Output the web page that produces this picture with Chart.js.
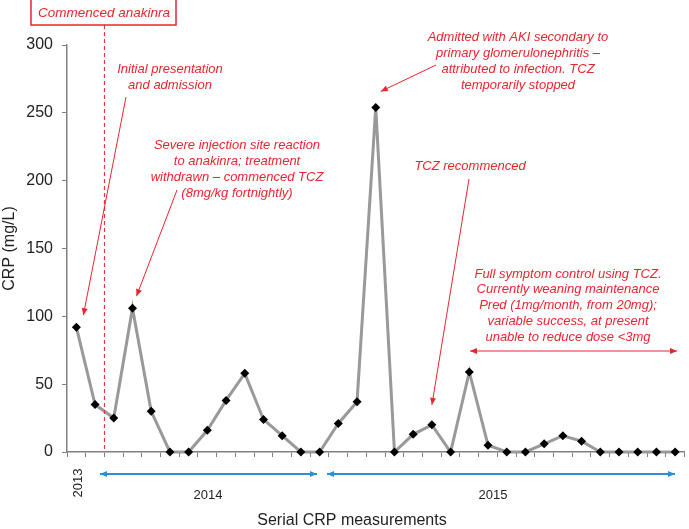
<!DOCTYPE html>
<html>
<head>
<meta charset="utf-8">
<script src="https://cdn.jsdelivr.net/npm/chart.js@4/dist/chart.umd.min.js"></script>
<style>
  html, body { margin: 0; padding: 0; background: #fff; }
  #wrap { width: 689px; height: 529px; }
</style>
</head>
<body>
<div id="wrap"><canvas id="crpChart" width="689" height="529"></canvas></div>
<script>
// serial CRP measurements (mg/L), one per visit
const measurements = ['1','2','3','4','5','6','7','8','9','10','11','12','13','14','15','16','17',
  '18','19','20','21','22','23','24','25','26','27','28','29','30','31','32','33'];
const crpValues = [92, 35, 25, 106, 30, 0, 0, 16, 38, 58, 24, 12, 0, 0, 21, 37, 254,
  0, 13, 20, 0, 59, 5, 0, 0, 6, 12, 8, 0, 0, 0, 0, 0];
const yTicks = [0, 50, 100, 150, 200, 250, 300];
const yearLabels = ['2013', '2014', '2015'];

const RED = '#e8262e';
const BLUE = '#2b8fd6';
const ITALIC = 'italic 13px "Liberation Sans", Arial, sans-serif';

function arrowHead(ctx, x1, y1, x2, y2, len, wid) {
  const a = Math.atan2(y2 - y1, x2 - x1);
  ctx.beginPath();
  ctx.moveTo(x2, y2);
  ctx.lineTo(x2 - len * Math.cos(a) + wid * Math.sin(a), y2 - len * Math.sin(a) - wid * Math.cos(a));
  ctx.lineTo(x2 - len * Math.cos(a) - wid * Math.sin(a), y2 - len * Math.sin(a) + wid * Math.cos(a));
  ctx.closePath();
  ctx.fill();
}

function arrow(ctx, x1, y1, x2, y2, color, lw, both) {
  ctx.save();
  ctx.strokeStyle = color;
  ctx.fillStyle = color;
  ctx.lineWidth = lw;
  ctx.beginPath();
  ctx.moveTo(x1, y1);
  ctx.lineTo(x2, y2);
  ctx.stroke();
  arrowHead(ctx, x1, y1, x2, y2, 7, 3);
  if (both) arrowHead(ctx, x2, y2, x1, y1, 7, 3);
  ctx.restore();
}

function lines(ctx, arr, cx, y0, step) {
  arr.forEach((t, i) => ctx.fillText(t, cx, y0 + i * step));
}

const annotations = {
  id: 'annotations',
  afterDraw(chart) {
    const ctx = chart.ctx;
    const x = chart.scales.x, y = chart.scales.y;
    const px = i => x.getPixelForValue(i);
    const py = v => y.getPixelForValue(v);

    ctx.save();
    // anakinra start: between 2nd and 3rd measurement
    const startX = (px(1) + px(2)) / 2;
    ctx.strokeStyle = RED;
    ctx.lineWidth = 1;
    ctx.setLineDash([4, 3]);
    ctx.beginPath();
    ctx.moveTo(startX, 25);
    ctx.lineTo(startX, y.bottom);
    ctx.stroke();
    ctx.setLineDash([]);

    ctx.lineWidth = 1.5;
    ctx.fillStyle = '#fff';
    ctx.fillRect(31, -1, 145, 26);
    ctx.strokeRect(31, -1, 145, 26);
    ctx.fillStyle = RED;
    ctx.font = 'italic 13.5px "Liberation Sans", Arial, sans-serif';
    ctx.textAlign = 'center';
    ctx.textBaseline = 'middle';
    ctx.fillText('Commenced anakinra', 104, 13);

    ctx.font = ITALIC;
    lines(ctx, ['Initial presentation', 'and admission'], 170, 69, 16.5);
    arrow(ctx, 126, 97, px(0) + 7, py(crpValues[0]) - 12, RED, 1);

    lines(ctx, ['Severe injection site reaction', 'to anakinra; treatment',
      'withdrawn \u2013 commenced TCZ', '(8mg/kg fortnightly)'], 237, 145, 16);
    arrow(ctx, 177, 190, px(3) + 4, py(crpValues[3]) - 12, RED, 1);

    lines(ctx, ['Admitted with AKI secondary to', 'primary glomerulonephritis \u2013',
      'attributed to infection. TCZ', 'temporarily stopped'], 518, 37, 16);
    arrow(ctx, 436, 65, px(16) + 5, py(crpValues[16]) - 16, RED, 1);

    ctx.fillText('TCZ recommenced', 470, 166);
    arrow(ctx, 469, 179, px(19), py(crpValues[19]) - 20, RED, 1);

    lines(ctx, ['Full symptom control using TCZ.', 'Currently weaning maintenance',
      'Pred (1mg/month, from 20mg);', 'variable success, at present',
      'unable to reduce dose <3mg'], 568, 274, 15.8);
    arrow(ctx, 470, 351, 677, 351, RED, 1, true);

    // year spans under the axis
    arrow(ctx, 100, 474, 317, 474, BLUE, 2, true);
    arrow(ctx, 327, 474, 675, 474, BLUE, 2, true);
    ctx.fillStyle = '#222';
    ctx.font = '13px "Liberation Sans", Arial, sans-serif';
    ctx.fillText(yearLabels[1], 208, 495);
    ctx.fillText(yearLabels[2], 493, 495);
    ctx.save();
    ctx.translate(78, 483);
    ctx.rotate(-Math.PI / 2);
    ctx.fillText(yearLabels[0], 0, 0);
    ctx.restore();

    ctx.font = '16px "Liberation Sans", Arial, sans-serif';
    ctx.fillText('Serial CRP measurements', 352, 521);
    ctx.restore();
  }
};

new Chart(document.getElementById('crpChart'), {
  type: 'line',
  data: {
    labels: measurements,
    datasets: [{
      data: crpValues,
      borderColor: '#999999',
      borderWidth: 3,
      pointStyle: 'rectRot',
      pointRadius: 4.5,
      pointBackgroundColor: '#000',
      pointBorderColor: '#000',
      pointBorderWidth: 0,
      tension: 0,
      clip: false
    }]
  },
  options: {
    responsive: false,
    animation: false,
    events: [],
    layout: { padding: { left: 0, right: 3, top: 45, bottom: 0 } },
    plugins: { legend: { display: false }, tooltip: { enabled: false } },
    scales: {
      x: {
        type: 'category',
        offset: true,
        grid: { offset: true, drawOnChartArea: false, drawTicks: true, tickLength: 5, color: '#808080' },
        border: { color: '#808080', width: 1.5 },
        ticks: { display: false },
        afterFit: s => { s.height = 77; }
      },
      y: {
        min: 0,
        max: 300,
        afterBuildTicks: s => { s.ticks = yTicks.map(v => ({ value: v })); },
        grid: { drawOnChartArea: false, drawTicks: true, tickLength: 5, color: '#808080' },
        border: { color: '#808080', width: 1.5 },
        ticks: { color: '#222', font: { size: 16, family: '"Liberation Sans", Arial, sans-serif' }, padding: 9 },
        title: { display: true, text: 'CRP (mg/L)', color: '#222', padding: { top: 0, bottom: 2 },
          font: { size: 16, family: '"Liberation Sans", Arial, sans-serif' } },
        afterFit: s => { s.width = 67; }
      }
    }
  },
  plugins: [annotations]
});
</script>
</body>
</html>
